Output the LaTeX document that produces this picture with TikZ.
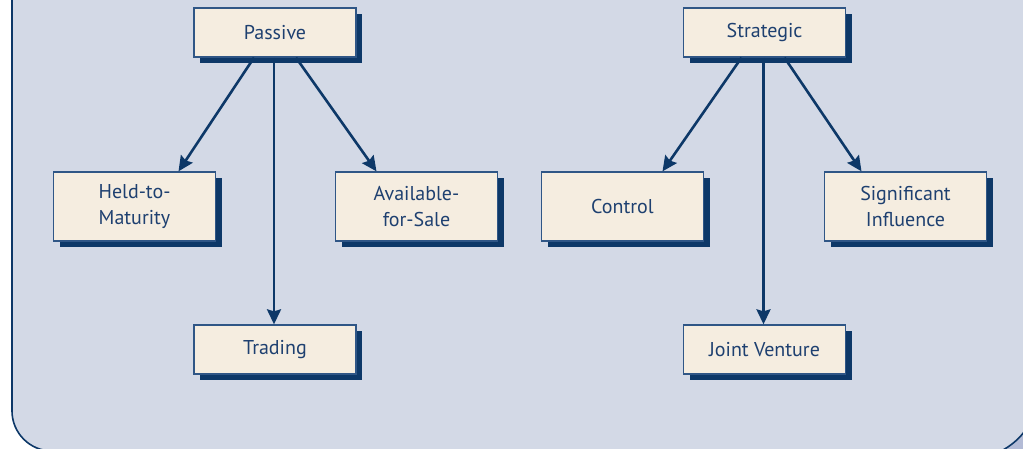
\documentclass[tikz,border=0pt]{standalone}
\usepackage{fontspec}
\setmainfont{PT Sans}
\usetikzlibrary{arrows.meta,shadows}
\definecolor{panel}{HTML}{D3D9E6}
\definecolor{navy}{HTML}{0D3868}
\definecolor{boxfill}{HTML}{F5EDE0}
\definecolor{boxline}{HTML}{2F5686}
\definecolor{txt}{HTML}{1E4070}
\definecolor{tabfill}{HTML}{B3BBD6}
\tikzset{
  box/.style={draw=boxline, line width=1.3pt, fill=boxfill, rectangle,
    text=txt, align=center, inner sep=0pt,
    font=\fontsize{20}{26}\selectfont,
    drop shadow={shadow xshift=6pt, shadow yshift=-6pt, fill=navy, opacity=1}},
  top/.style={box, minimum width=162pt, minimum height=49pt},
  mid/.style={box, minimum width=162pt, minimum height=69pt},
  arr/.style={draw=navy, line width=2.6pt, -{Stealth[length=15pt,width=14pt,inset=2pt]}}
}
\begin{document}
\begin{tikzpicture}[x=1pt,y=-1pt]
\useasboundingbox (0,0) rectangle (1023,449);
% panel
\draw[navy, line width=1.6pt, fill=panel]
  (12,-10) -- (12,411) .. controls (12,433) and (30,451) .. (52,451) -- (1040,451) -- (1040,-10) -- cycle;
% bottom-right tab corner
\fill[tabfill] (1003,451) .. controls (1010,446) and (1018,440) .. (1024,432) -- (1024,451) -- cycle;
\draw[navy, line width=1.6pt] (1003,450) .. controls (1010,446) and (1018,440) .. (1024,432);
% nodes
\node[top] (passive) at (275,32.5) {Passive};
\node[top] (strategic) at (764.5,32.5) {Strategic};
\node[mid] (held) at (134.5,206.5) {Held-to-\\Maturity};
\node[mid] (avail) at (416.5,206.5) {Available-\\for-Sale};
\node[mid] (control) at (622.5,206.5) {Control};
\node[mid] (signif) at (905.5,206.5) {Significant\\Influence};
\node[top] (trading) at (275,349.5) {Trading};
\node[top] (joint) at (764.5,349.5) {Joint Venture};
% arrows
\draw[arr] ([xshift=-21pt]passive.south) -- ([xshift=44pt]held.north);
\draw[arr] ([xshift=-1pt]passive.south) -- ([xshift=-1pt]trading.north);
\draw[arr] ([xshift=21pt]passive.south) -- ([xshift=-40pt]avail.north);
\draw[arr] ([xshift=-23pt]strategic.south) -- ([xshift=40pt]control.north);
\draw[arr] ([xshift=-1pt]strategic.south) -- ([xshift=-1pt]joint.north);
\draw[arr] ([xshift=20pt]strategic.south) -- ([xshift=-44pt]signif.north);
\end{tikzpicture}
\end{document}
